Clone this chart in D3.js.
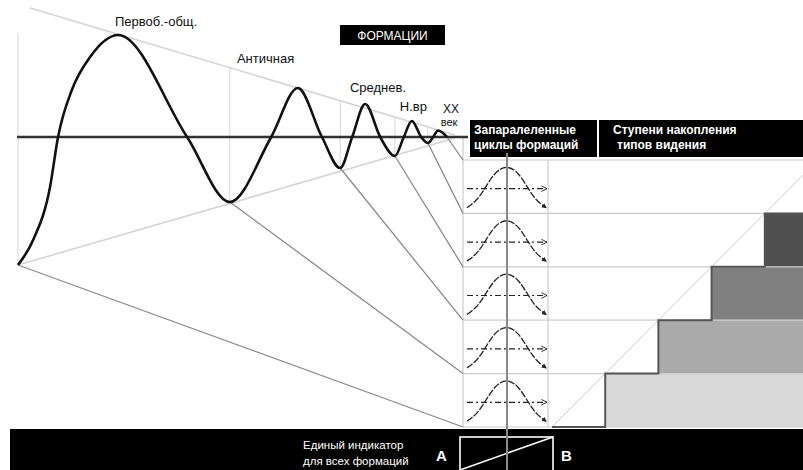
<!DOCTYPE html>
<html>
<head>
<meta charset="utf-8">
<script src="https://cdn.jsdelivr.net/npm/d3@7"></script>
<style>
  body { margin: 0; background: #fff; }
  svg { display: block; font-family: "Liberation Sans", Arial, sans-serif; }
</style>
</head>
<body>
<div class="chart"></div>
<script>
// formations, oldest first
const formations = ["Первоб.-общ.", "Античная", "Среднев.", "Н.вр", "XX век"];

// damped wave: time (0-100) and amplitude
const waveT = [0, 3.4, 7.2, 9.0, 12.1, 16.2, 22.5, 38.0, 47.6, 56.9, 62.9, 68.3, 72.4, 75.1, 78.0, 81.4, 84.7, 86.7, 88.5, 90.6, 92.1, 93.3, 94.4, 96.4];
const waveV = [-1.28, -1.03, -0.50, 0, 0.47, 0.80, 1.02, 0, -0.65, 0, 0.49, 0, -0.31, 0, 0.33, 0, -0.19, 0, 0.16, 0, -0.06, 0, 0.065, 0];

// troughs where each formation starts
const troughT = [0, 47.6, 72.4, 84.7, 92.1];
const troughV = [-1.28, -0.65, -0.31, -0.19, -0.06];
const boundaryTop = [1.04, 0.69, 0.36, 0.19, 0.10];

// envelope lines
const upperEnvT = [2.7, 98.2];
const upperEnvV = [1.29, 0.02];
const lowerEnvT = [0, 98.2];
const lowerEnvV = [-1.28, -0.01];

// formation labels
const labelT = [21.8, 49.2, 74.6, 85.8];
const labelV = [1.11, 0.74, 0.45, 0.26];

// mini bell glyph (normalised)
const bellU = [-1, -0.75, -0.55, -0.3, 0, 0.3, 0.55, 0.75, 1];
const bellH = [0.1, 0.25, 0.5, 0.85, 1, 0.85, 0.5, 0.25, 0.1];

// accumulation level per formation
const stepLevel = [1, 2, 3, 4, 5];
const stepColor = ["#d9d9d9", "#ababab", "#808080", "#505050", "#303030"];

const W = 803, H = 470;
const svg = d3.select(".chart").append("svg")
    .attr("width", W).attr("height", H);

const defs = svg.append("defs");
defs.append("marker")
    .attr("id", "open").attr("viewBox", "0 0 10 10")
    .attr("refX", 9).attr("refY", 5)
    .attr("markerWidth", 7).attr("markerHeight", 7)
    .attr("markerUnits", "userSpaceOnUse")
    .attr("orient", "auto")
  .append("path").attr("d", "M1,1 L9,5 L1,9")
    .attr("fill", "none").attr("stroke", "#222").attr("stroke-width", 1.3);
defs.append("marker")
    .attr("id", "solid").attr("viewBox", "0 0 10 10")
    .attr("refX", 8).attr("refY", 5)
    .attr("markerWidth", 5).attr("markerHeight", 5)
    .attr("markerUnits", "userSpaceOnUse")
    .attr("orient", "auto")
  .append("path").attr("d", "M0,0 L10,5 L0,10 Z").attr("fill", "#222");

const x = d3.scaleLinear().domain([0, 100]).range([18, 463]);
const y = d3.scaleLinear().domain([-1.3, 1.3]).range([267, 7]);

const rows = formations.slice().reverse();
const yRow = d3.scaleBand().domain(rows).range([160, 427]);
const stepX = d3.scaleLinear().domain([0, 5]).range([552, 818]);

//---- right panel background ----
const panel = svg.append("g");
panel.append("clipPath").attr("id", "clipR")
  .append("rect").attr("x", 548).attr("y", 150).attr("width", W - 548).attr("height", 277);

// diagonal
panel.append("line")
    .attr("clip-path", "url(#clipR)")
    .attr("x1", stepX(0)).attr("y1", yRow.range()[1])
    .attr("x2", stepX(5)).attr("y2", yRow.range()[0])
    .attr("stroke", "#ccc").attr("stroke-width", 1);

// step fills
panel.selectAll("rect.step")
  .data(formations)
  .join("rect")
    .attr("class", "step")
    .attr("x", (d, i) => stepX(stepLevel[i]))
    .attr("y", d => yRow(d))
    .attr("width", (d, i) => Math.max(0, W - stepX(stepLevel[i])))
    .attr("height", yRow.bandwidth())
    .attr("fill", (d, i) => stepColor[i]);

// row lines
const edges = rows.map(d => yRow(d)).concat([yRow.range()[1]]);
panel.selectAll("line.row")
  .data(edges)
  .join("line")
    .attr("x1", x(100)).attr("x2", W)
    .attr("y1", d => d).attr("y2", d => d)
    .attr("stroke", "#ccc").attr("stroke-width", 1.2);

// staircase outline
const stair = [[stepX(0), yRow.range()[1]]];
formations.forEach((f, i) => {
  const sx = stepX(stepLevel[i]);
  if (sx > W) return;
  stair.push([sx, yRow(f) + yRow.bandwidth()]);
  stair.push([sx, yRow(f)]);
});
stair.push([W, yRow(formations[3])]);
panel.append("path")
    .attr("d", d3.line()(stair))
    .attr("fill", "none").attr("stroke", "#555").attr("stroke-width", 2);

// column borders
panel.append("line")
    .attr("x1", x(100)).attr("x2", x(100)).attr("y1", y(0)).attr("y2", 427)
    .attr("stroke", "#ccc").attr("stroke-width", 1.2);
panel.append("line")
    .attr("x1", 548).attr("x2", 548).attr("y1", 160).attr("y2", 427)
    .attr("stroke", "#ccc").attr("stroke-width", 1.2);

//---- left: envelope and boundaries ----
svg.append("line")
    .attr("x1", x(upperEnvT[0])).attr("y1", y(upperEnvV[0]))
    .attr("x2", x(upperEnvT[1])).attr("y2", y(upperEnvV[1]))
    .attr("stroke", "#d4d4d4").attr("stroke-width", 1.6);
svg.append("line")
    .attr("x1", x(lowerEnvT[0])).attr("y1", y(lowerEnvV[0]))
    .attr("x2", x(lowerEnvT[1])).attr("y2", y(lowerEnvV[1]))
    .attr("stroke", "#d4d4d4").attr("stroke-width", 1.6);

svg.selectAll("line.bound")
  .data(troughT)
  .join("line")
    .attr("x1", d => x(d)).attr("x2", d => x(d))
    .attr("y1", (d, i) => y(boundaryTop[i]))
    .attr("y2", (d, i) => y(troughV[i]))
    .attr("stroke", "#ddd").attr("stroke-width", 1.2);

// rays from troughs to rows
svg.selectAll("line.ray")
  .data(formations)
  .join("line")
    .attr("x1", (d, i) => x(troughT[i])).attr("y1", (d, i) => y(troughV[i]))
    .attr("x2", x(100)).attr("y2", d => yRow(d) + yRow.bandwidth())
    .attr("stroke", "#8a8a8a").attr("stroke-width", 1.3);
svg.append("line")
    .attr("x1", x(waveT[waveT.length - 1])).attr("y1", y(0))
    .attr("x2", x(100)).attr("y2", yRow(formations[4]))
    .attr("stroke", "#8a8a8a").attr("stroke-width", 1.3);

// axis
svg.append("line")
    .attr("x1", 17).attr("x2", 468)
    .attr("y1", y(0)).attr("y2", y(0))
    .attr("stroke", "#333").attr("stroke-width", 2.6);

// wave
const wave = d3.line()
    .x(d => x(d[0])).y(d => y(d[1]))
    .curve(d3.curveMonotoneX);
svg.append("path")
    .datum(waveT.map((t, i) => [t, waveV[i]]))
    .attr("d", wave)
    .attr("fill", "none").attr("stroke", "#111").attr("stroke-width", 2.6);

// labels
svg.selectAll("text.lab")
  .data(formations.slice(0, 4))
  .join("text")
    .attr("x", (d, i) => x(labelT[i])).attr("y", (d, i) => y(labelV[i]))
    .attr("font-size", 13).attr("fill", "#111")
    .text(d => d);
const [xxWord, vekWord] = formations[4].split(" ");
svg.append("text")
    .attr("x", 451).attr("y", 113)
    .attr("text-anchor", "middle").attr("font-size", 12).attr("fill", "#111")
    .text(xxWord);
svg.append("text")
    .attr("x", 449).attr("y", 126)
    .attr("text-anchor", "middle").attr("font-size", 11).attr("fill", "#111")
    .text(vekWord);

// ФОРМАЦИИ box
svg.append("rect").attr("x", 340).attr("y", 25).attr("width", 105).attr("height", 20).attr("fill", "#000");
svg.append("text").attr("x", 392.5).attr("y", 40)
    .attr("text-anchor", "middle").attr("font-size", 12).attr("fill", "#fff")
    .text("ФОРМАЦИИ");

//---- header boxes ----
svg.append("rect").attr("x", 470).attr("y", 120).attr("width", 127).attr("height", 37).attr("fill", "#000");
svg.append("rect").attr("x", 599).attr("y", 120).attr("width", W - 599).attr("height", 37).attr("fill", "#000");
const h1 = svg.append("text").attr("font-size", 12).attr("font-weight", "bold").attr("fill", "#fff");
h1.append("tspan").attr("x", 474).attr("y", 134).text("Запаралеленные");
h1.append("tspan").attr("x", 474).attr("y", 149).text("циклы формаций");
const h2 = svg.append("text").attr("font-size", 12).attr("font-weight", "bold").attr("fill", "#fff");
h2.append("tspan").attr("x", 613).attr("y", 134).text("Ступени накопления");
h2.append("tspan").attr("x", 617).attr("y", 149).text("типов видения");

//---- mini cycles ----
const bell = svg.selectAll("g.bell")
  .data(formations)
  .join("g").attr("class", "bell");
bell.each(function(f) {
  const g = d3.select(this);
  const bx = d3.scaleLinear().domain([-1, 1]).range([467, 546]);
  const by = d3.scaleLinear().domain([0, 1]).range([yRow(f) + yRow.bandwidth() - 1, yRow(f) + 5]);
  g.append("path")
      .datum(bellU.map((u, i) => [u, bellH[i]]))
      .attr("d", d3.line().x(d => bx(d[0])).y(d => by(d[1])).curve(d3.curveBasis))
      .attr("fill", "none").attr("stroke", "#222").attr("stroke-width", 1.3)
      .attr("stroke-dasharray", "7,1.5")
      .attr("marker-end", "url(#solid)");
  g.append("line")
      .attr("x1", bx(-1)).attr("x2", bx(1) + 1)
      .attr("y1", by(0.5)).attr("y2", by(0.5))
      .attr("stroke", "#222").attr("stroke-width", 1.2)
      .attr("stroke-dasharray", "6,3,2,3")
      .attr("marker-end", "url(#open)");
});

//---- bottom bar ----
svg.append("rect").attr("x", 10).attr("y", 429).attr("width", W - 10).attr("height", H - 429).attr("fill", "#000");
const ind = svg.append("text").attr("font-size", 11.5).attr("fill", "#fff");
ind.append("tspan").attr("x", 303).attr("y", 449).text("Единый индикатор");
ind.append("tspan").attr("x", 303).attr("y", 465).text("для всех формаций");
svg.append("text").attr("x", 436).attr("y", 461).attr("font-size", 15).attr("font-weight", "bold")
    .attr("fill", "#fff").text("A");
svg.append("text").attr("x", 561).attr("y", 461).attr("font-size", 15).attr("font-weight", "bold")
    .attr("fill", "#fff").text("B");
svg.append("rect").attr("x", 460).attr("y", 437).attr("width", 93).attr("height", 40)
    .attr("fill", "none").attr("stroke", "#fff").attr("stroke-width", 1.6);
svg.append("line").attr("x1", 460).attr("y1", 470).attr("x2", 553).attr("y2", 437)
    .attr("stroke", "#fff").attr("stroke-width", 1.6);

// central indicator line
svg.append("line")
    .attr("x1", 507).attr("x2", 507).attr("y1", 153).attr("y2", H)
    .attr("stroke", "#888").attr("stroke-width", 2);
</script>
</body>
</html>
